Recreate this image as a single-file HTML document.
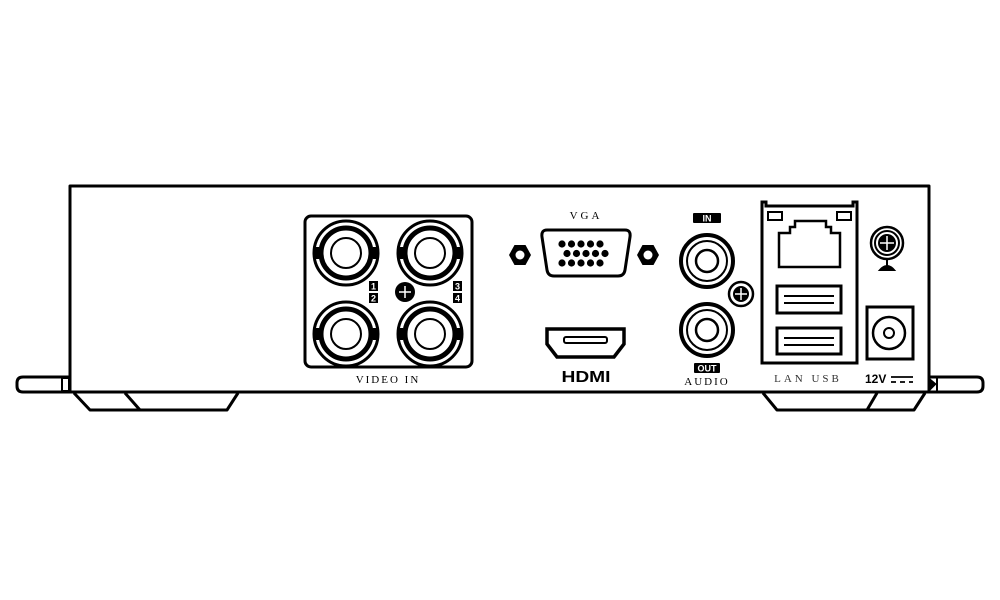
<!DOCTYPE html>
<html><head><meta charset="utf-8"><style>
html,body{margin:0;padding:0;background:#fff;}
svg{display:block}
.s{font-family:"Liberation Serif",serif;}
.b{font-family:"Liberation Sans",sans-serif;font-weight:bold;}
</style></head><body>
<svg width="1000" height="600" viewBox="0 0 1000 600" xmlns="http://www.w3.org/2000/svg">
<g fill="none" stroke="#000" stroke-width="3" stroke-linejoin="round">
<rect x="70" y="186" width="859" height="206"/>
<path d="M70 377 H23 Q17 377 17 383 V386 Q17 392 23 392 H70"/>
<rect x="62" y="378" width="7" height="13" stroke-width="2"/>
<path d="M929 377 H977 Q983 377 983 383 V386 Q983 392 977 392 H929"/>
<path d="M930 379 L936 384 L930 390 Z" fill="#000" stroke-width="1"/>
<line x1="937" y1="377" x2="937" y2="392" stroke-width="2"/>
<path d="M74 393 L90 410 H227 L238 393"/>
<line x1="125" y1="393" x2="140" y2="410"/>
<path d="M763 393 L777 410 H914 L925 393"/>
<line x1="877" y1="393" x2="867" y2="410"/>
<rect x="305" y="216" width="167" height="151" rx="6"/>
</g>
<g fill="none" stroke="#000">
<g id="bnc">
<circle cx="346" cy="253" r="32" stroke-width="3"/>
<circle cx="346" cy="253" r="25" stroke-width="5"/>
<circle cx="346" cy="253" r="15" stroke-width="2"/>
<rect x="314" y="247" width="5" height="12" fill="#000" stroke="none"/>
<rect x="373" y="247" width="5" height="12" fill="#000" stroke="none"/>
</g>
<use href="#bnc" x="84"/>
<use href="#bnc" y="81"/>
<use href="#bnc" x="84" y="81"/>
</g>
<g class="b" style="font-size:9px" text-anchor="middle">
<rect x="369" y="281" width="9" height="10" fill="#000"/><text x="373.5" y="289.5" fill="#fff">1</text>
<rect x="369" y="293" width="9" height="10" fill="#000"/><text x="373.5" y="301.5" fill="#fff">2</text>
<rect x="453" y="281" width="9" height="10" fill="#000"/><text x="457.5" y="289.5" fill="#fff">3</text>
<rect x="453" y="293" width="9" height="10" fill="#000"/><text x="457.5" y="301.5" fill="#fff">4</text>
</g>
<circle cx="405" cy="292" r="10" fill="#000"/>
<path d="M405 286 V298 M399 292 H411" stroke="#fff" stroke-width="1.5"/>
<text class="s" x="388" y="383" style="font-size:11px" text-anchor="middle" letter-spacing="2">VIDEO IN</text>
<text class="s" x="586" y="219" style="font-size:11px" text-anchor="middle" letter-spacing="3">VGA</text>
<path d="M547 230 H625 Q631 230 630 237 L625 270 Q624 276 618 276 H554 Q548 276 547 270 L542 237 Q541 230 547 230 Z" fill="none" stroke="#000" stroke-width="3"/>
<g fill="#000">
<circle cx="562" cy="244" r="3.6"/><circle cx="571.5" cy="244" r="3.6"/><circle cx="581" cy="244" r="3.6"/><circle cx="590.5" cy="244" r="3.6"/><circle cx="600" cy="244" r="3.6"/>
<circle cx="567" cy="253.5" r="3.6"/><circle cx="576.5" cy="253.5" r="3.6"/><circle cx="586" cy="253.5" r="3.6"/><circle cx="595.5" cy="253.5" r="3.6"/><circle cx="605" cy="253.5" r="3.6"/>
<circle cx="562" cy="263" r="3.6"/><circle cx="571.5" cy="263" r="3.6"/><circle cx="581" cy="263" r="3.6"/><circle cx="590.5" cy="263" r="3.6"/><circle cx="600" cy="263" r="3.6"/>
<polygon points="509,255 514.5,245 525.5,245 531,255 525.5,265 514.5,265"/>
<polygon points="637,255 642.5,245 653.5,245 659,255 653.5,265 642.5,265"/>
</g>
<circle cx="520" cy="255" r="4.5" fill="#fff"/><circle cx="648" cy="255" r="4.5" fill="#fff"/>
<path d="M547 329 H624 V344 L614 357 H557 L547 344 Z" fill="none" stroke="#000" stroke-width="3.5"/>
<rect x="564" y="337" width="43" height="6" rx="2" fill="none" stroke="#000" stroke-width="2"/>
<text class="b" x="586" y="382" style="font-size:16px" text-anchor="middle" transform="translate(586 0) scale(1.2 1) translate(-586 0)">HDMI</text>
<rect x="693" y="213" width="28" height="10" rx="1" fill="#000"/>
<text class="b" x="707" y="221.5" style="font-size:9px" fill="#fff" text-anchor="middle">IN</text>
<g fill="none" stroke="#000">
<circle cx="707" cy="261" r="26" stroke-width="4"/><circle cx="707" cy="261" r="20" stroke-width="2"/><circle cx="707" cy="261" r="11" stroke-width="2.5"/>
<circle cx="707" cy="330" r="26" stroke-width="4"/><circle cx="707" cy="330" r="20" stroke-width="2"/><circle cx="707" cy="330" r="11" stroke-width="2.5"/>
<circle cx="741" cy="294" r="12" stroke-width="2.5"/>
</g>
<circle cx="741" cy="294" r="8" fill="#000"/>
<path d="M741 288 V300 M735 294 H747" stroke="#fff" stroke-width="1.5"/>
<rect x="694" y="363" width="26" height="10" rx="1" fill="#000"/>
<text class="b" x="707" y="371.5" style="font-size:9px" fill="#fff" text-anchor="middle">OUT</text>
<text class="s" x="707" y="385" style="font-size:11px" text-anchor="middle" letter-spacing="2">AUDIO</text>
<g fill="none" stroke="#000">
<path d="M762 363 V202 H766 V206 H853 V202 H857 V363 Z" stroke-width="3"/>
<rect x="768" y="212" width="14" height="8" stroke-width="2"/>
<rect x="837" y="212" width="14" height="8" stroke-width="2"/>
<path d="M779 267 V233 H790 V227 H795 V221 H826 V227 H831 V233 H840 V267 Z" stroke-width="2.5"/>
<rect x="777" y="286" width="64" height="27" stroke-width="3"/>
<rect x="777" y="328" width="64" height="26" stroke-width="3"/>
<path d="M784 296 H834 M784 303 H834" stroke-width="2"/>
<path d="M784 338 H834 M784 345 H834" stroke-width="2"/>
</g>
<text class="s" x="808" y="382" style="font-size:11px" text-anchor="middle" letter-spacing="3" fill="#333">LAN  USB</text>
<g fill="none" stroke="#000">
<circle cx="887" cy="243" r="16" stroke-width="2.5"/>
<circle cx="887" cy="243" r="12" stroke-width="2"/>
</g>
<circle cx="887" cy="243" r="9" fill="#000"/>
<path d="M887 236 V250 M880 243 H894" stroke="#fff" stroke-width="1.5"/>
<path d="M887 259 V270 M880 270 Q887 262 894 270 Z" stroke="#000" stroke-width="2" fill="#000"/>
<rect x="867" y="307" width="46" height="52" fill="none" stroke="#000" stroke-width="3"/>
<circle cx="889" cy="333" r="16" fill="none" stroke="#000" stroke-width="2.5"/>
<circle cx="889" cy="333" r="5" fill="none" stroke="#000" stroke-width="2"/>
<text class="b" x="865" y="383" style="font-size:12px">12V</text>
<path d="M891 377 H913 M891 382 H896 M900 382 H905 M909 382 H913" stroke="#000" stroke-width="1.8"/>
</svg>
</body></html>
